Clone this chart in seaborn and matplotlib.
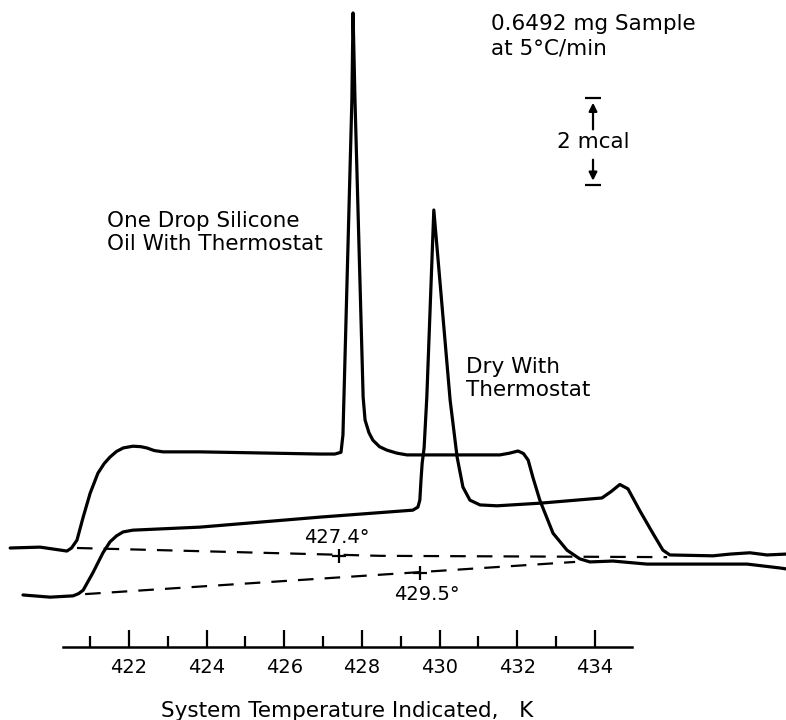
import matplotlib
matplotlib.use("Agg")
import matplotlib.pyplot as plt
import numpy as np
import pandas as pd
import seaborn as sns

# ---- data (temperature in K, heat flow in mcal, arbitrary zero) ----
sil_T = [418.94, 419.71, 420.40, 420.52, 420.66, 420.82, 421.00, 421.20, 421.36, 421.51,
         421.68, 421.85, 422.10, 422.30, 422.46, 422.65, 422.88, 423.83, 426.92, 427.30,
         427.46, 427.51, 427.74, 427.77, 427.82, 428.03, 428.08, 428.18, 428.28, 428.45,
         428.64, 428.90, 429.16, 431.55, 431.80, 432.02, 432.16, 432.28, 432.40, 432.58,
         432.92, 433.28, 433.61, 433.87, 434.46, 435.34, 437.92, 438.77, 438.92]
sil_q = [0.00, 0.02, -0.07, 0.00, 0.18, 0.71, 1.26, 1.72, 1.94, 2.09,
         2.22, 2.30, 2.34, 2.33, 2.30, 2.24, 2.21, 2.21, 2.16, 2.16,
         2.20, 2.60, 10.30, 12.30, 10.30, 3.47, 2.94, 2.65, 2.48, 2.33,
         2.25, 2.18, 2.14, 2.14, 2.18, 2.23, 2.17, 2.02, 1.63, 1.10,
         0.34, -0.05, -0.25, -0.32, -0.30, -0.37, -0.37, -0.46, -0.48]

dry_T = [419.27, 419.97, 420.56, 420.70, 420.82, 421.07, 421.33, 421.51, 421.68, 421.85,
         422.10, 423.83, 426.92, 429.31, 429.44, 429.49, 429.52, 429.55, 429.60, 429.67,
         429.85, 430.27, 430.45, 430.60, 430.78, 431.04, 431.48, 432.58, 434.18, 434.42,
         434.64, 434.85, 435.16, 435.49, 435.75, 435.93, 437.04, 437.48, 437.99, 438.43,
         438.92]
dry_q = [-1.08, -1.13, -1.10, -1.05, -0.97, -0.57, -0.11, 0.14, 0.28, 0.37,
         0.41, 0.48, 0.71, 0.87, 0.94, 1.10, 1.56, 1.95, 2.30, 3.47,
         7.77, 3.40, 2.09, 1.40, 1.10, 0.99, 0.97, 1.03, 1.15, 1.30,
         1.46, 1.36, 0.85, 0.34, -0.05, -0.16, -0.18, -0.14, -0.11, -0.16,
         -0.14]

base_upper_T = [420.66, 428.46, 435.86]
base_upper_q = [0.00, -0.18, -0.21]
base_lower_T = [420.87, 433.49]
base_lower_q = [-1.06, -0.32]

onset_T = [427.4, 429.5]
onset_q = [-0.19, -0.57]
onset_labels = ["427.4°", "429.5°"]

major_ticks = [422, 424, 426, 428, 430, 432, 434]
minor_ticks = [421, 423, 425, 427, 429, 431, 433]
tick_labels = ["422", "424", "426", "428", "430", "432", "434"]

scale_mcal = 2
scale_T = 433.95
scale_bottom = 8.34

# ---- figure ----
sns.set_theme(style="white")
plt.rcParams["font.family"] = ["DejaVu Sans"]
plt.rcParams["text.color"] = "black"
plt.rcParams["xtick.color"] = "black"
plt.rcParams["xtick.labelcolor"] = "black"
plt.rcParams["axes.labelcolor"] = "black"

fig = plt.figure(figsize=(7.86, 7.2), dpi=100)
ax = fig.add_axes([0, 73 / 720, 1, 647 / 720])

df = pd.concat([
    pd.DataFrame({"T": sil_T, "q": sil_q, "run": "silicone"}),
    pd.DataFrame({"T": dry_T, "q": dry_q, "run": "dry"}),
])
sns.lineplot(data=df, x="T", y="q", units="run", estimator=None, sort=False,
             color="black", lw=2.3, ax=ax, legend=False,
             solid_joinstyle="round", solid_capstyle="round")

for bT, bq in [(base_upper_T, base_upper_q), (base_lower_T, base_lower_q)]:
    sns.lineplot(x=bT, y=bq, color="black", lw=1.6, linestyle=(0, (7, 5)),
                 sort=False, estimator=None, ax=ax)

sns.scatterplot(x=onset_T, y=onset_q, marker="+", s=110, color="black",
                linewidth=1.6, ax=ax, legend=False)
ax.text(427.36, 0.25, onset_labels[0], fontsize=14, ha="center", va="center")
ax.text(429.67, -1.08, onset_labels[1], fontsize=14, ha="center", va="center")

# labels
ax.text(421.43, 7.25, "One Drop Silicone\nOil With Thermostat", fontsize=15.5,
        ha="left", va="center", linespacing=1.15)
ax.text(430.68, 3.90, "Dry With\nThermostat", fontsize=15.5,
        ha="left", va="center", linespacing=1.15)
ax.text(431.32, 11.76, "0.6492 mg Sample\nat 5°C/min", fontsize=15.5,
        ha="left", va="center", linespacing=1.25)

# scale bar
top = scale_bottom + scale_mcal
ax.hlines([top, scale_bottom], scale_T - 0.21, scale_T + 0.21, color="black", lw=1.6)
ax.annotate("", xy=(scale_T, top - 0.04), xytext=(scale_T, top - 0.78),
            arrowprops=dict(arrowstyle="-|>", color="black", lw=1.6, mutation_scale=12))
ax.annotate("", xy=(scale_T, scale_bottom + 0.04), xytext=(scale_T, scale_bottom + 0.65),
            arrowprops=dict(arrowstyle="-|>", color="black", lw=1.6, mutation_scale=12))
ax.text(scale_T, (top + scale_bottom) / 2, f"{scale_mcal} mcal", fontsize=15.5,
        ha="center", va="center")

# axes
ax.set_xlim(418.678, 438.92)
ax.set_ylim(-2.276, 12.598)
for s in ["left", "top", "right"]:
    ax.spines[s].set_visible(False)
ax.spines["bottom"].set_bounds(420.30, 434.95)
ax.spines["bottom"].set_color("black")
ax.spines["bottom"].set_linewidth(1.8)
ax.set_yticks([])
ax.set_ylabel("")
ax.set_xticks(major_ticks)
ax.set_xticklabels(tick_labels)
ax.set_xticks(minor_ticks, minor=True)
ax.tick_params(axis="x", which="major", direction="in", length=12, width=1.6,
               labelsize=14, pad=8, bottom=True, color="black", labelcolor="black")
ax.tick_params(axis="x", which="minor", direction="in", length=8, width=1.6,
               bottom=True, color="black")
ax.set_xlabel("System Temperature Indicated,   K", fontsize=15.5, color="black")
ax.xaxis.set_label_coords(347 / 786, -0.083)
ax.patch.set_alpha(0)

fig.savefig("out.png", dpi=100, facecolor="white")
